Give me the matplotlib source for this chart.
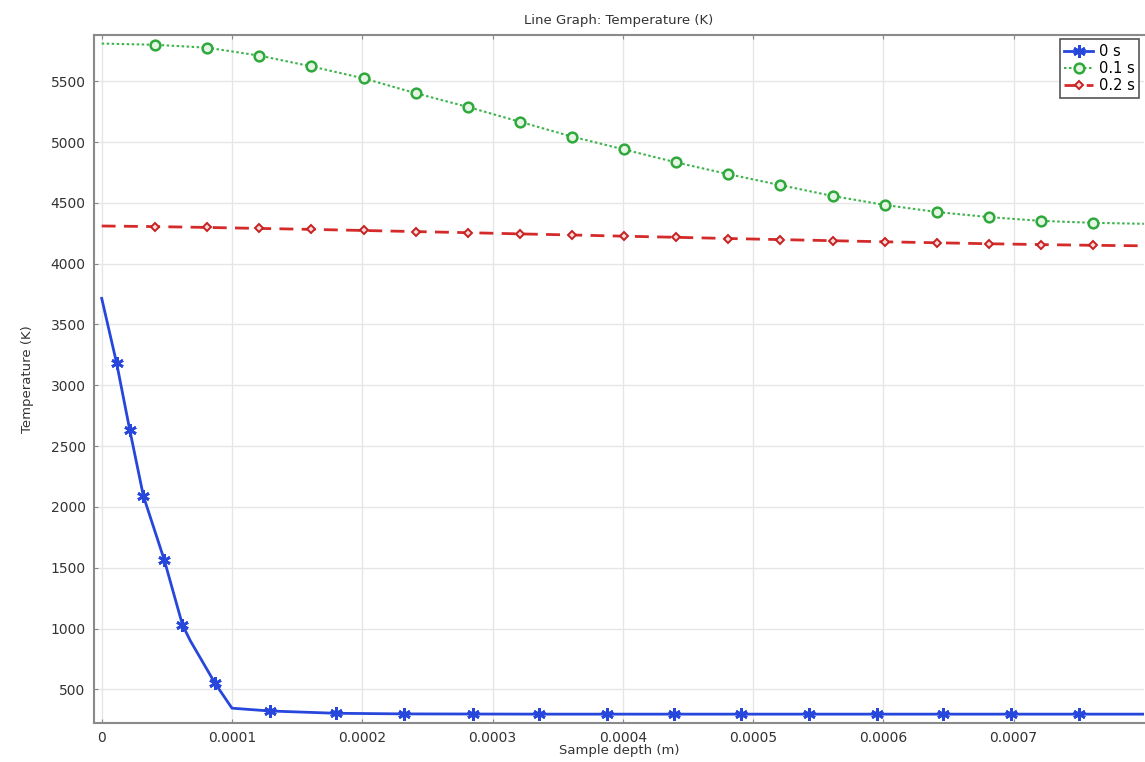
import matplotlib
matplotlib.use("Agg")
import matplotlib.pyplot as plt

# Temperature profiles along sample depth
depth_0s = [0.0, 1.15e-5, 2.15e-5, 3.2e-5, 4.8e-5, 6.2e-5, 6.8e-5, 8.7e-5, 1.0e-4,
            1.29e-4, 1.8e-4, 2.32e-4, 2.85e-4, 3.36e-4, 3.88e-4, 4.39e-4, 4.91e-4,
            5.43e-4, 5.95e-4, 6.46e-4, 6.98e-4, 7.5e-4, 8.0e-4]
temp_0s = [3715, 3180, 2635, 2090, 1565, 1030, 900, 550, 345,
           322, 303, 298, 297, 296, 296, 296, 296,
           296, 296, 296, 296, 296, 296]
marks_0s = [1, 2, 3, 4, 5, 7, 9, 10, 11, 12, 13, 14, 15, 16, 17, 18, 19, 20, 21]

depth_t = [0.0, 0.41e-4, 0.81e-4, 1.21e-4, 1.61e-4, 2.01e-4, 2.41e-4, 2.81e-4, 3.21e-4,
           3.61e-4, 4.01e-4, 4.41e-4, 4.81e-4, 5.21e-4, 5.61e-4, 6.01e-4, 6.41e-4,
           6.81e-4, 7.21e-4, 7.61e-4, 8.0e-4]
temp_01s = [5810, 5800, 5776, 5711, 5622, 5524, 5402, 5289, 5167,
            5045, 4939, 4833, 4736, 4646, 4557, 4483, 4425,
            4383, 4352, 4336, 4328]
temp_02s = [4310, 4305, 4298, 4290, 4282, 4273, 4264, 4255, 4245,
            4236, 4226, 4217, 4207, 4198, 4189, 4180, 4172,
            4164, 4157, 4151, 4147]
marks_t = list(range(1, 20))

x_ticks = [0, 0.0001, 0.0002, 0.0003, 0.0004, 0.0005, 0.0006, 0.0007]
x_labels = ["0", "0.0001", "0.0002", "0.0003", "0.0004", "0.0005", "0.0006", "0.0007"]
y_ticks = [500, 1000, 1500, 2000, 2500, 3000, 3500, 4000, 4500, 5000, 5500]

plt.rcParams["font.family"] = ["DejaVu Sans"]

fig = plt.figure(figsize=(11.45, 7.62), dpi=100)
ax = fig.add_axes([0.082, 0.051, 0.917, 0.903])

ax.plot(depth_0s, temp_0s, color="#2646dc", lw=2, marker=(6, 2, 0), ms=9, mew=2,
        markevery=marks_0s, label="0 s")
ax.plot(depth_t, temp_01s, color="#3cb44b", lw=1.5, ls=(0, (1.2, 1.2)), marker="o", ms=7,
        mfc="#e4f5e4", mec="#2fa83c", mew=1.8, markevery=marks_t, label="0.1 s")
ax.plot(depth_t, temp_02s, color="#d42a2a", lw=2, ls=(0, (5, 3)), marker="D", ms=4.5,
        mfc="#f5dada", mec="#c82020", mew=1.4, markevery=marks_t, label="0.2 s")

ax.set_xlim(-6e-6, 0.0008)
ax.set_ylim(222, 5880)
ax.set_xticks(x_ticks)
ax.set_xticklabels(x_labels)
ax.set_yticks(y_ticks)

ax.grid(True, color="#e6e6e6", lw=1)
ax.set_axisbelow(True)
for s in ax.spines.values():
    s.set_color("#8a8a8a")
    s.set_linewidth(1.5)
ax.spines["right"].set_visible(False)
ax.tick_params(direction="in", length=3, color="#888888", labelsize=10,
               labelcolor="#333333", top=True, right=False, pad=6)

ax.set_title("Line Graph: Temperature (K)", fontsize=9.5, color="#333333", pad=8)
ax.set_xlabel("Sample depth (m)", fontsize=9.5, color="#333333", labelpad=-1)
ax.set_ylabel("Temperature (K)", fontsize=9.5, color="#333333", labelpad=12)

leg = ax.legend(loc="upper right", fontsize=10.5, fancybox=False, framealpha=1,
                edgecolor="#555555", handlelength=2.0, borderpad=0.3,
                labelspacing=0.15, handletextpad=0.4, borderaxespad=0.3)
leg.get_frame().set_linewidth(1.2)

fig.savefig("out.png", dpi=100)
